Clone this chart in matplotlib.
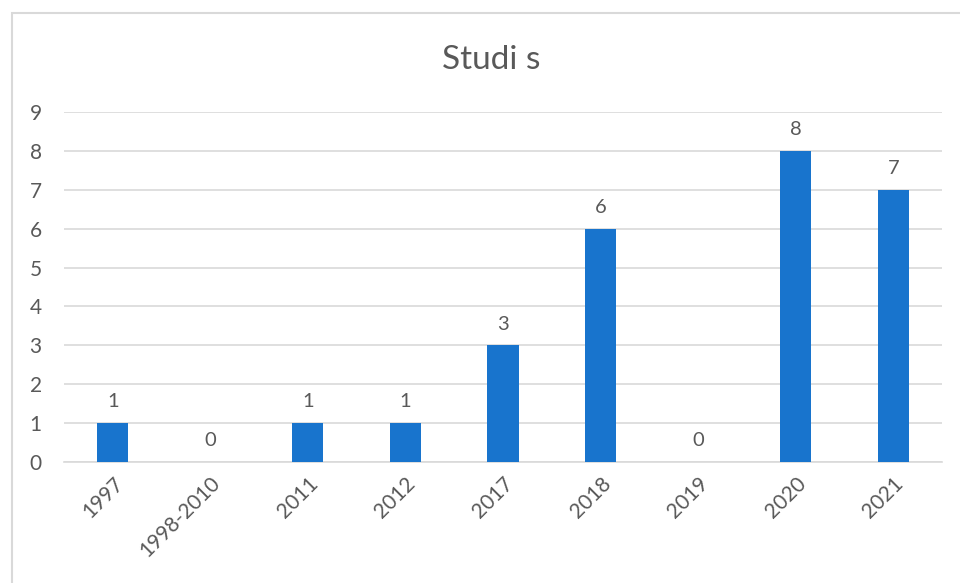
import matplotlib.pyplot as plt
from matplotlib.patches import Rectangle

years = ['1997', '1998-2010', '2011', '2012', '2017', '2018', '2019', '2020', '2021']
counts = [1, 0, 1, 1, 3, 6, 0, 8, 7]

plt.rcParams['font.family'] = ['Lato', 'DejaVu Sans']

fig = plt.figure(figsize=(9.6, 5.83), dpi=100)
ax = fig.add_axes([64 / 960, 1 - 462 / 583, (942 - 64) / 960, (462 - 112) / 583])

# outer chart border (only top/left visible in the crop)
fig.patches.append(Rectangle((12 / 960, -0.1), 1.2, 1 - 13 / 583 + 0.1,
                             transform=fig.transFigure, fill=False,
                             edgecolor='#d9d9d9', linewidth=1.5))

x = range(len(years))
bars = ax.bar(x, counts, width=0.32, color='#1874cd', zorder=3)
for xi, c in zip(x, counts):
    ax.text(xi, c + 0.33, str(c), ha='center', va='bottom', fontsize=14.5, color='#595959')

ax.set_xlim(-0.5, len(years) - 0.5)
ax.set_ylim(0, 9)
ax.set_yticks(range(10))
ax.yaxis.grid(True, color='#d9d9d9', linewidth=1.2, zorder=0)
for s in ['top', 'right', 'left']:
    ax.spines[s].set_visible(False)
ax.spines['bottom'].set_color('#d9d9d9')
ax.spines['bottom'].set_linewidth(1.2)
ax.tick_params(length=0, colors='#595959', labelsize=15)
ax.tick_params(axis='y', pad=16)
ax.set_xticks(list(x))
ax.set_xticklabels(years, rotation=45, ha='right', rotation_mode='anchor')
ax.tick_params(axis='x', pad=8)

fig.text(491 / 960, 1 - 60 / 583, 'Studi s', ha='center', va='center', fontsize=24, color='#595959')

plt.savefig('out.png', dpi=100)
